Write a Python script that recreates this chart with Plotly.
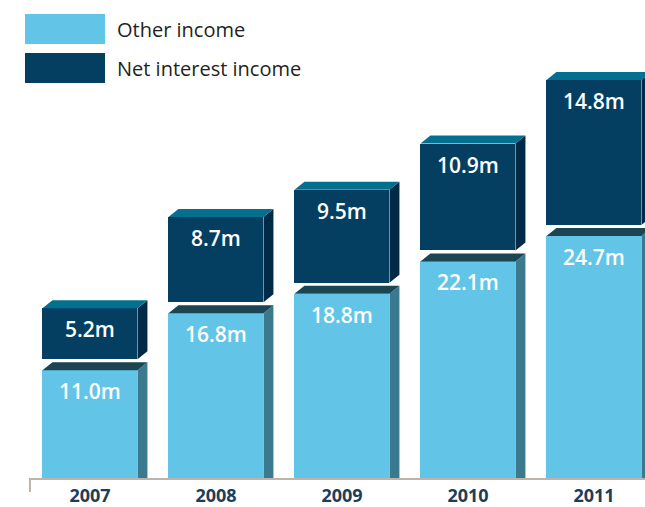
import plotly.graph_objects as go

# Income breakdown by year (millions)
years = ["2007", "2008", "2009", "2010", "2011"]
other_income = [11.0, 16.8, 18.8, 22.1, 24.7]
net_interest_income = [5.2, 8.7, 9.5, 10.9, 14.8]

# Colours: front, side and top faces of each series
LIGHT_FRONT, LIGHT_SIDE, LIGHT_TOP = "#62c5e7", "#3b7a8e", "#1b4553"
DARK_FRONT, DARK_SIDE, DARK_TOP = "#043f61", "#002a45", "#03708f"
AXIS_COLOR = "#bdb3a9"
YEAR_COLOR = "#1e3d5a"

# Geometry in axis units
BAR_W = 0.754        # front face width (category units)
DX = 0.079           # extrusion depth, horizontal
PX_PER_UNIT = 9.8    # vertical pixels per million
DY = 8 / PX_PER_UNIT # extrusion depth, vertical
GAP = 11 / PX_PER_UNIT  # space between stacked segments

W, H = 645, 507
M_L, M_B = 30, 29
plot_h = H - M_B
x0 = -0.476
x1 = x0 + (W - M_L) / 126.0

fig = go.Figure()


def add_block(xc, base, height, side, top):
    left, right = xc - BAR_W / 2, xc + BAR_W / 2
    top_y = base + height
    # side face
    back_bottom = base + DY if base > 0 else base
    fig.add_trace(go.Scatter(
        x=[right, right + DX, right + DX, right, right],
        y=[base, back_bottom, top_y + DY, top_y, base],
        fill="toself", fillcolor=side, mode="lines",
        line=dict(width=0, color=side), hoverinfo="skip", showlegend=False))
    # top face
    fig.add_trace(go.Scatter(
        x=[left, left + DX, right + DX, right, left],
        y=[top_y, top_y + DY, top_y + DY, top_y, top_y],
        fill="toself", fillcolor=top, mode="lines",
        line=dict(width=0, color=top), hoverinfo="skip", showlegend=False))


xs = list(range(len(years)))
dark_base = [o + GAP for o in other_income]

fig.add_trace(go.Bar(
    x=xs, y=other_income, base=[0] * len(xs), width=BAR_W,
    marker=dict(color=LIGHT_FRONT, line=dict(width=0)),
    name="Other income", showlegend=False))
fig.add_trace(go.Bar(
    x=xs, y=net_interest_income, base=dark_base, width=BAR_W,
    marker=dict(color=DARK_FRONT, line=dict(width=0)),
    name="Net interest income", showlegend=False))

for i in xs:
    add_block(i, 0, other_income[i], LIGHT_SIDE, LIGHT_TOP)
    add_block(i, dark_base[i], net_interest_income[i], DARK_SIDE, DARK_TOP)

label_font = dict(family="Open Sans", size=21, color="white", weight=600)
for i in xs:
    fig.add_annotation(x=i, y=other_income[i], text=f"{other_income[i]:.1f}m",
                       showarrow=False, yanchor="top", yshift=-5, font=label_font)
    fig.add_annotation(x=i, y=dark_base[i] + net_interest_income[i],
                       text=f"{net_interest_income[i]:.1f}m",
                       showarrow=False, yanchor="top", yshift=-5, font=label_font)

# Legend
legend_items = [("Other income", LIGHT_FRONT, 14), ("Net interest income", DARK_FRONT, 53)]
for text, color, top in legend_items:
    fig.add_shape(type="rect", xref="paper", yref="paper",
                  x0=(25 - M_L) / (W - M_L), x1=(105 - M_L) / (W - M_L),
                  y0=1 - (top + 30) / plot_h, y1=1 - top / plot_h,
                  fillcolor=color, line=dict(width=0), layer="above")
    fig.add_annotation(xref="paper", yref="paper",
                       x=(115 - M_L) / (W - M_L), y=1 - (top + 15) / plot_h,
                       xanchor="left", yanchor="middle", showarrow=False, text=text,
                       font=dict(family="Open Sans", size=20, color="#231f20"))

# Left end tick of the baseline
fig.add_shape(type="line", xref="paper", yref="paper",
              x0=0, x1=0, y0=0, y1=-14 / plot_h,
              line=dict(color=AXIS_COLOR, width=2))

fig.update_layout(
    width=W, height=H,
    margin=dict(l=M_L, r=0, t=0, b=M_B, pad=0, autoexpand=False),
    plot_bgcolor="white", paper_bgcolor="white",
    barmode="overlay", bargap=0,
    xaxis=dict(range=[x0, x1], tickvals=xs, ticktext=years,
               showgrid=False, zeroline=False, showline=True,
               linecolor=AXIS_COLOR, linewidth=2, ticks="",
               ticklabelstandoff=0, automargin=False,
               tickfont=dict(family="Open Sans", size=18, color=YEAR_COLOR, weight=700),
               fixedrange=True),
    yaxis=dict(range=[0, plot_h / PX_PER_UNIT], visible=False, fixedrange=True,
               automargin=False),
)

fig.write_html("out.html")
